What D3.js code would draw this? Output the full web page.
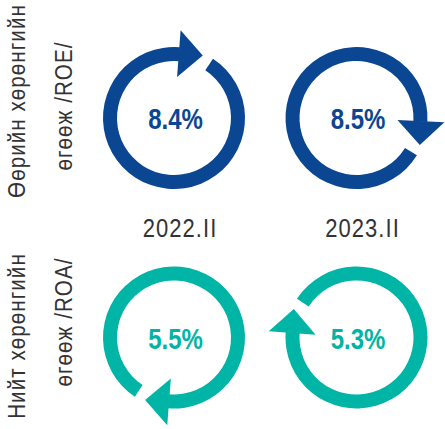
<!DOCTYPE html>
<html>
<head>
<meta charset="utf-8">
<script src="https://cdn.jsdelivr.net/npm/d3@7/dist/d3.min.js"></script>
<style>
  html, body { margin: 0; padding: 0; background: #fff; }
  svg { display: block; }
</style>
</head>
<body>
<svg id="chart" width="445" height="429"></svg>
<script>
// ---- data ----
const periods = ["2022.II", "2023.II"];
const metrics = ["ROE", "ROA"];
const metricLines = [
  ["Өөрийн хөрөнгийн", "өгөөж /ROE/"],
  ["Нийт хөрөнгийн", "өгөөж /ROA/"]
];
const roeValues = [8.4, 8.5];
const roaValues = [5.5, 5.3];

// ---- layout / style ----
const colors = { ROE: "#0b4693", ROA: "#00b4a6" };
const arrowBase = { ROE: [4.3, 92.7], ROA: [184.4, 274] }; // degrees, clockwise from top
const gapDeg = 29;
const rOuter = 71, rInner = 57, rMid = 64.5;
const headHalf = 23.5, headLen = 24;
const fontFam = "'Liberation Sans', Arial, sans-serif";

const svg = d3.select("#chart");
const x = d3.scalePoint().domain(periods).range([174, 356.5]);
const y = d3.scalePoint().domain(metrics).range([118, 337.5]);

const rows = [
  { metric: "ROE", values: roeValues },
  { metric: "ROA", values: roaValues }
];

const arc = d3.arc().innerRadius(rInner).outerRadius(rOuter);
const rad = d => d * Math.PI / 180;

rows.forEach((row) => {
  row.values.forEach((v, pi) => {
    const cx = x(periods[pi]), cy = y(row.metric);
    const base = arrowBase[row.metric][pi];
    const g = svg.append("g").attr("transform", `translate(${cx},${cy})`);
    g.append("path")
      .attr("d", arc({ startAngle: rad(base + gapDeg), endAngle: rad(base + 360.5) }))
      .attr("fill", colors[row.metric]);
    g.append("path")
      .attr("transform", `rotate(${base})`)
      .attr("d", `M0,${-(rMid - headHalf)} L0,${-(rMid + headHalf)} L${headLen},${-rMid} Z`)
      .attr("fill", colors[row.metric]);
    g.append("text")
      .attr("transform", "translate(1.5,11) scale(0.8,1)")
      .attr("text-anchor", "middle")
      .attr("font-family", fontFam)
      .attr("font-weight", "bold")
      .attr("font-size", 30)
      .attr("fill", colors[row.metric])
      .text(d3.format(".1f")(v) + "%");
  });
});

// period labels
svg.selectAll("text.period")
  .data(periods)
  .join("text")
  .attr("class", "period")
  .attr("transform", d => `translate(${x(d) + 6},237) scale(0.88,1)`)
  .attr("text-anchor", "middle")
  .attr("font-family", fontFam)
  .attr("font-size", 25)
  .attr("letter-spacing", 1.2)
  .attr("fill", "#333")
  .text(d => d);

// metric labels (rotated)
const lineOffsets = [[-17, -12], [-1.5, -15.5]];
const lineX = [25, 72];
metrics.forEach((m, mi) => {
  metricLines[mi].forEach((line, li) => {
    const ty = y(m) + lineOffsets[mi][li];
    svg.append("text")
      .attr("transform", `translate(${lineX[li]},${ty}) rotate(-90) scale(0.86,1)`)
      .attr("text-anchor", "middle")
      .attr("font-family", fontFam)
      .attr("font-size", 24)
      .attr("letter-spacing", 1.2)
      .attr("fill", "#333")
      .text(line);
  });
});
</script>
</body>
</html>
